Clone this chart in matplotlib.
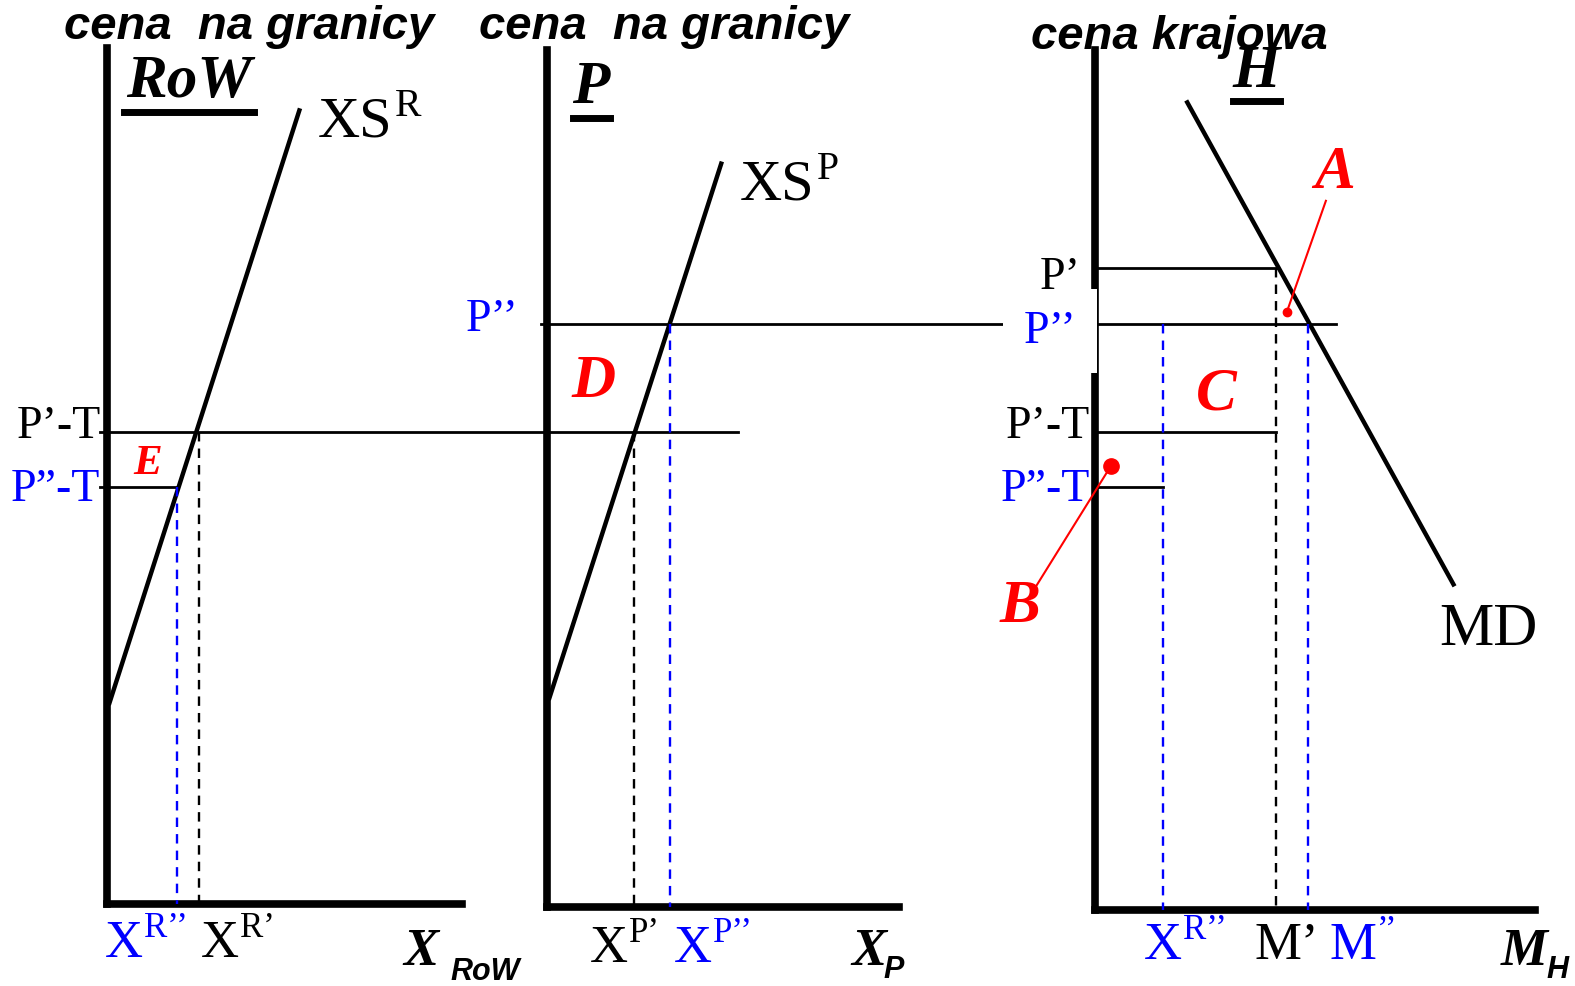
import matplotlib
matplotlib.use("Agg")
import matplotlib.pyplot as plt

SERIF = "Liberation Serif"
SANS = "Liberation Sans"
BLUE = "#0000ff"
RED = "#ff0000"

# osie paneli RoW, P, H (x osi cen, gora, dol, koniec osi ilosci)
axis_x = [107, 545, 1090]
axis_top = [48, 50, 50]
axis_bottom = [900, 903, 906]
axis_right = [460, 895, 1528]

# poziomy cen
p_prim = 267        # P'
p_bis = 323         # P''
p_prim_t = 430      # P'-T
p_bis_t = 485       # P''-T

# krzywe (x, y)
xs_r = ([109, 298], [700, 110])
xs_p = ([547, 718], [695, 163])
md = ([1182, 1447], [102, 582])

# ilosci
x_r_prim, x_r_bis = 198, 176
x_p_prim, x_p_bis = 631, 667
m_prim, m_bis, m_xr = 1270, 1302, 1158

fig = plt.figure(figsize=(15.75, 9.86), dpi=100)
ax = fig.add_axes([0, 0, 1, 1])
ax.set_xlim(0, 1568)
ax.set_ylim(982, 0)
ax.axis("off")

# osie
for x0, top, bot, right in zip(axis_x, axis_top, axis_bottom, axis_right):
    ax.plot([x0, x0], [top, bot], color="black", lw=5.5, solid_capstyle="projecting")
    ax.plot([x0, right], [bot, bot], color="black", lw=5.5, solid_capstyle="projecting")

# krzywe
ax.plot(*xs_r, color="black", lw=3.2)
ax.plot(*xs_p, color="black", lw=3.2)
ax.plot(*md, color="black", lw=3.2)

# linie cen
ax.plot([100, 735], [p_prim_t, p_prim_t], color="black", lw=2)
ax.plot([100, x_r_bis], [p_bis_t, p_bis_t], color="black", lw=2)
ax.plot([539, 1330], [p_bis, p_bis], color="black", lw=2)
ax.plot([1093, m_prim], [p_prim, p_prim], color="black", lw=2)
ax.plot([1093, m_prim], [p_prim_t, p_prim_t], color="black", lw=2)
ax.plot([1093, m_xr], [p_bis_t, p_bis_t], color="black", lw=2)

# przerywane
dash = dict(lw=1.7, ls=(0, (4, 3)))
ax.plot([x_r_prim, x_r_prim], [p_prim_t, axis_bottom[0]], color="black", **dash)
ax.plot([x_r_bis, x_r_bis], [p_bis_t, axis_bottom[0]], color=BLUE, **dash)
ax.plot([x_p_prim, x_p_prim], [p_prim_t, axis_bottom[1]], color="black", **dash)
ax.plot([x_p_bis, x_p_bis], [p_bis, axis_bottom[1]], color=BLUE, **dash)
ax.plot([m_xr, m_xr], [p_bis, axis_bottom[2]], color=BLUE, **dash)
ax.plot([m_prim, m_prim], [p_prim, axis_bottom[2]], color="black", **dash)
ax.plot([m_bis, m_bis], [p_bis, axis_bottom[2]], color=BLUE, **dash)

# naglowki
head = dict(family=SANS, weight="bold", style="italic", fontsize=34, ha="center", va="center")
ax.text(248, 27, "cena  na granicy", **head)
ax.text(661, 27, "cena  na granicy", **head)
ax.text(1174, 37, "cena krajowa", **head)

# nazwy paneli
pan = dict(family=SERIF, weight="bold", style="italic", fontsize=44, ha="center", va="center")
ax.text(188, 82, "RoW", **pan)
ax.plot([123, 253], [112, 112], color="black", lw=5)
ax.text(588, 88, "P", **pan)
ax.plot([570, 607], [118, 118], color="black", lw=5)
ax.text(1251, 72, "H", **pan)
ax.plot([1228, 1274], [101, 101], color="black", lw=5)


def sup(x, y, base, s, size, color="black", dx=0, dy=0, ratio=0.62):
    t = ax.text(x, y, base, family=SERIF, fontsize=size, color=color, ha="left", va="center")
    ax.text(x + dx, y - dy, s, family=SERIF, fontsize=size * ratio, color=color,
            ha="left", va="center")
    return t


sup(316, 122, "XS", "R", 42, dx=77, dy=16, ratio=0.68)
sup(736, 185, "XS", "P", 42, dx=77, dy=16, ratio=0.68)
ax.text(1482, 628, "MD", family=SERIF, fontsize=44, ha="center", va="center")

# etykiety cen
lab = dict(family=SERIF, fontsize=33, va="center")
ax.text(100, 425, "P’-T", ha="right", color="black", **lab)
ax.text(100, 488, "P”-T", ha="right", color=BLUE, **lab)
ax.text(490, 318, "P’’", ha="center", color=BLUE, **lab)
ax.text(1055, 277, "P’", ha="center", color="black", **lab)
ax.text(1045, 330, "P’’", ha="center", color=BLUE, zorder=5,
        bbox=dict(boxstyle="square,pad=0.45", fc="white", ec="none"), **lab)
ax.text(1085, 425, "P’-T", ha="right", color="black", **lab)
ax.text(1085, 488, "P”-T", ha="right", color=BLUE, **lab)

# litery obszarow
red = dict(family=SERIF, weight="bold", style="italic", color=RED, ha="center", va="center")
ax.text(147, 462, "E", fontsize=31, **red)
ax.text(591, 380, "D", fontsize=44, **red)
ax.text(1329, 172, "A", fontsize=44, **red)
ax.text(1211, 393, "C", fontsize=44, **red)
ax.text(1015, 605, "B", fontsize=44, **red)

ax.plot([1320, 1281], [200, 311], color=RED, lw=1.5)
ax.plot([1281], [311], "o", color=RED, ms=6)
ax.plot([1032, 1106], [583, 464], color=RED, lw=1.5)
ax.plot([1106], [464], "o", color=RED, ms=11)

# etykiety ilosci
sup(104, 940, "X", "R’’", 38, BLUE, dx=39, dy=15, ratio=0.66)
sup(200, 940, "X", "R’", 38, dx=39, dy=15, ratio=0.66)
sup(587, 945, "X", "P’", 38, dx=39, dy=15, ratio=0.66)
sup(671, 945, "X", "P’’", 38, BLUE, dx=39, dy=15, ratio=0.66)
sup(1139, 942, "X", "R’’", 38, BLUE, dx=39, dy=15, ratio=0.66)
ax.text(1249, 942, "M’", family=SERIF, fontsize=38, ha="left", va="center")
sup(1324, 942, "M", "’’", 38, BLUE, dx=47, dy=15, ratio=0.66)

bi_serif = dict(family=SERIF, weight="bold", style="italic", fontsize=38, ha="left", va="center")
bi_sans = dict(family=SANS, weight="bold", style="italic", fontsize=22, ha="left", va="center")
ax.text(402, 948, "X", **bi_serif)
ax.text(448, 968, "RoW", **bi_sans)
ax.text(848, 948, "X", **bi_serif)
ax.text(880, 966, "P", **bi_sans)
ax.text(1494, 948, "M", **bi_serif)
ax.text(1540, 966, "H", **bi_sans)

fig.savefig("out.png", dpi=100, facecolor="white")
